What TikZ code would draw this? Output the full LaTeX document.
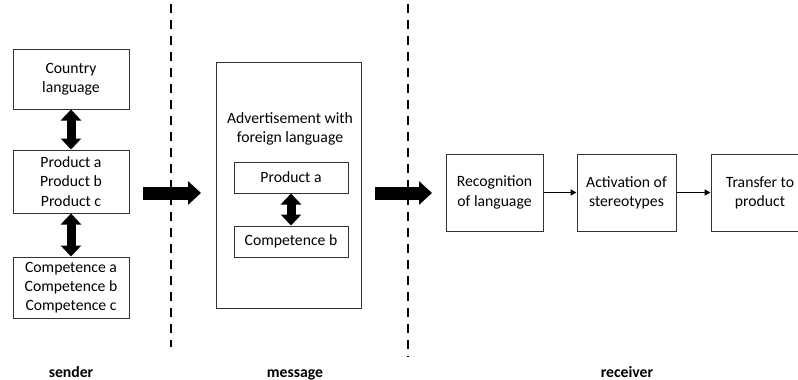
\documentclass[tikz,border=0pt]{standalone}
\usepackage{fontspec}
\setmainfont{Carlito}
\usetikzlibrary{arrows.meta}
\tikzset{
  box/.style={draw=black!80, line width=1pt, inner sep=0pt, align=center,
    font=\fontsize{15.7}{19.2}\selectfont},
  twoway/.style={line width=9pt, {Triangle[length=11pt,width=20pt]}-{Triangle[length=11pt,width=20pt]}},
  bigarrow/.style={line width=13pt, -{Triangle[length=13pt,width=23pt]}},
  thinarrow/.style={line width=1.6pt, -{Triangle[length=6pt,width=6pt]}},
  divider/.style={line width=2pt, dash pattern=on 9pt off 7pt},
  phase/.style={anchor=base, inner sep=0pt, font=\fontsize{15.7}{19.2}\selectfont\bfseries}
}
\begin{document}
\begin{tikzpicture}[x=1pt,y=-1pt]
\useasboundingbox (0,0) rectangle (798,380);
\clip (0,0) rectangle (798,380);

% sender column
\node[box, minimum width=116pt, minimum height=60pt] (country) at (71,79) {Country\\language};
\node[box, minimum width=116pt, minimum height=63pt] (prod) at (71,181.5) {Product a\\Product b\\Product c};
\node[box, minimum width=116pt, minimum height=61pt] (comp) at (71,287.5) {Competence a\\Competence b\\Competence c};
\draw[twoway] (country.south) -- (prod.north);
\draw[twoway] (prod.south) -- (comp.north);

% message column
\node[box, minimum width=145pt, minimum height=246pt] (msg) at (288.5,185) {};
\node[box, draw=none] (adtext) at (290,129) {Advertisement with\\foreign language};
\node[box, minimum width=114pt, minimum height=31pt] (pa) at (291,177.5) {Product a};
\node[box, minimum width=114pt, minimum height=31pt] (cb) at (291,241.5) {Competence b};
\draw[twoway] (pa.south) -- (cb.north);

% receiver column
\node[box, minimum width=97pt, minimum height=77pt] (rec) at (494.5,192.5) {Recognition\\of language};
\node[box, minimum width=99pt, minimum height=77pt] (act) at (626.5,192.5) {Activation of\\stereotypes};
\node[box, minimum width=98pt, minimum height=77pt] (tra) at (760,192.5) {Transfer to\\product};
\draw[thinarrow] (rec.east) -- (act.west);
\draw[thinarrow] (act.east) -- (tra.west);

% flow between columns
\coordinate (f1s) at (143,193);
\coordinate (f1e) at (201,193);
\coordinate (f2s) at (375,193);
\coordinate (f2e) at (432,193);
\draw[bigarrow] (f1s) -- (f1e);
\draw[bigarrow] (f2s) -- (f2e);

% dividers
\coordinate (d1t) at (171,4);
\coordinate (d1b) at (171,347);
\coordinate (d2t) at (408,4);
\coordinate (d2b) at (408,357);
\draw[divider] (d1t) -- (d1b);
\draw[divider] (d2t) -- (d2b);

% phase labels
\node[phase] (sender) at (71,377) {sender};
\node[phase] (message) at (295,377) {message};
\node[phase] (receiver) at (627,377) {receiver};
\end{tikzpicture}
\end{document}
